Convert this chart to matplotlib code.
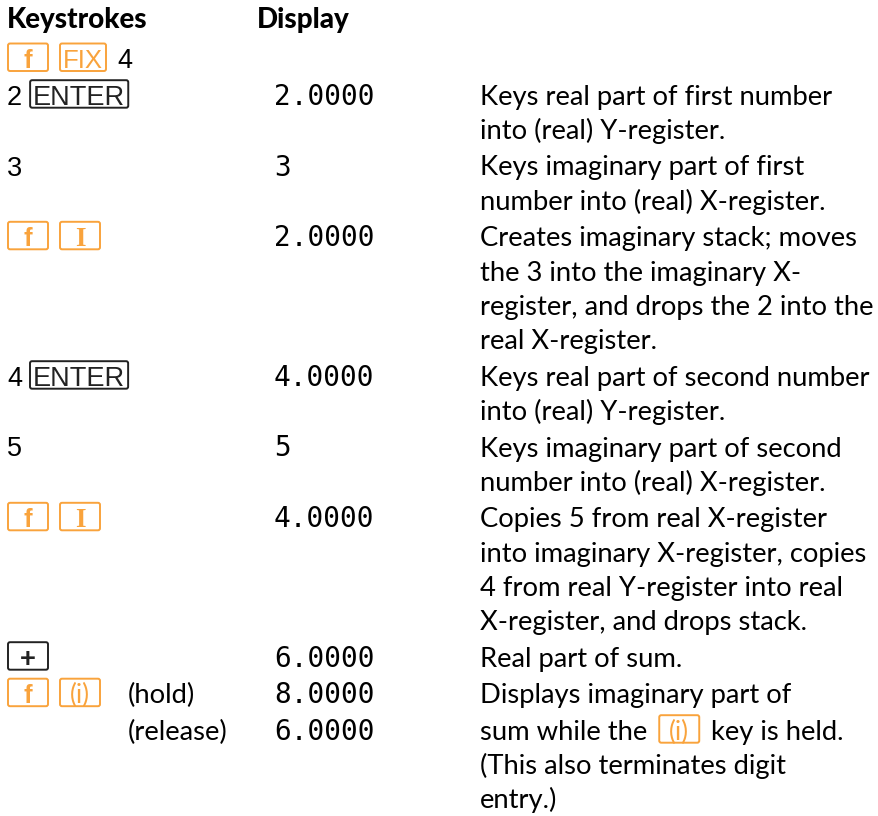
import matplotlib
matplotlib.use("Agg")
import matplotlib.pyplot as plt
from matplotlib.patches import FancyBboxPatch

# ---------------- data ----------------
headers = ["Keystrokes", "Display"]
keystrokes = [
    [("okey", "f"), ("okey", "FIX"), ("text", "4")],
    [("text", "2"), ("bkey", "ENTER")],
    [("text", "3")],
    [("okey", "f"), ("okey", "I")],
    [("text", "4"), ("bkey", "ENTER")],
    [("text", "5")],
    [("okey", "f"), ("okey", "I")],
    [("bkey", "+")],
    [("okey", "f"), ("okey", "(i)")],
    [],
]
key_notes = ["", "", "", "", "", "", "", "", "(hold)", "(release)"]
display = ["", "2.0000", "3", "2.0000", "4.0000", "5", "4.0000", "6.0000", "8.0000", "6.0000"]
descriptions = [
    [],
    ["Keys real part of first number", "into (real) Y-register."],
    ["Keys imaginary part of first", "number into (real) X-register."],
    ["Creates imaginary stack; moves", "the 3 into the imaginary X-",
     "register, and drops the 2 into the", "real X-register."],
    ["Keys real part of second number", "into (real) Y-register."],
    ["Keys imaginary part of second", "number into (real) X-register."],
    ["Copies 5 from real X-register", "into imaginary X-register, copies",
     "4 from real Y-register into real", "X-register, and drops stack."],
    ["Real part of sum."],
    ["Displays imaginary part of"],
    ["sum while the [(i)] key is held.", "(This also terminates digit", "entry.)"],
]

# ---------------- style / layout ----------------
W, H = 879, 816
ORANGE = "#F9A33C"
BODY = dict(family="Lato", size=19.7)
HEAD = dict(family="Lato", size=20, weight="black")
KEYTXT = dict(family="Liberation Sans", size=19.5)
MONO = dict(family="DejaVu Sans Mono", size=20)
KEY_FONTS = {
    "f": dict(family="Liberation Sans", size=18.5, weight="bold"),
    "FIX": dict(family="Liberation Sans", size=18.5),
    "I": dict(family="Liberation Serif", size=19.5, weight="bold"),
    "(i)": dict(family="Lato", size=18.5, weight="normal"),
    "ENTER": dict(family="Liberation Sans", size=19.5),
    "+": dict(family="Liberation Sans", size=19.5, weight="bold"),
}
X_KEYS, X_NOTES, X_DISP, X_DESC = 8, 128, 274, 480
X_HEAD = [7, 257]
Y_HEAD, Y_FIRST = 28, 68
LINE, ROWGAP = 34.3, 36.5
BOX_UP, BOX_H = 24.5, 27.5

fig = plt.figure(figsize=(W / 100, H / 100), dpi=100)
ax = fig.add_axes([0, 0, 1, 1])
ax.set_xlim(0, W)
ax.set_ylim(H, 0)
ax.axis("off")
renderer = fig.canvas.get_renderer()


def width_of(t):
    return t.get_window_extent(renderer=renderer).width


def draw_box_key(x, y, label, color):
    props = KEY_FONTS.get(label, KEYTXT)
    t = ax.text(x, y, label, color=color, va="baseline", ha="center", **props)
    w = max(40, width_of(t) + 6)
    t.set_x(x + w / 2)
    ax.add_patch(FancyBboxPatch((x, y - BOX_UP), w, BOX_H,
                                boxstyle="round,pad=0,rounding_size=2",
                                ec=color, fc="none", lw=1.4))
    return x + w


def draw_plain(x, y, s, props, color="black"):
    t = ax.text(x, y, s, color=color, va="baseline", ha="left", **props)
    return x + width_of(t)


# headers
for hx, h in zip(X_HEAD, headers):
    ax.text(hx, Y_HEAD, h, va="baseline", ha="left", color="black", **HEAD)

y = Y_FIRST
for i in range(len(keystrokes)):
    # keystrokes column
    x = X_KEYS
    for kind, lab in keystrokes[i]:
        if kind == "text":
            x = draw_plain(x - 1, y, lab, KEYTXT) + 8
        elif kind == "okey":
            x = draw_box_key(x, y, lab, ORANGE) + 12
        else:
            x = draw_box_key(x, y, lab, "#222222") + 12
    if key_notes[i]:
        draw_plain(X_NOTES, y, key_notes[i], BODY)
    if display[i]:
        draw_plain(X_DISP, y, display[i], MONO)
    lines = descriptions[i]
    for j, line in enumerate(lines):
        ly = y + j * LINE
        x = X_DESC
        parts = line.replace("]", "[").split("[")
        for k, part in enumerate(parts):
            if k % 2 == 1:
                x = draw_box_key(x + 5, ly, part, ORANGE) + 5
            elif part:
                x = draw_plain(x, ly, part, BODY)
    y += max(len(lines) - 1, 0) * LINE + (ROWGAP if i > 0 else 36.7)

fig.savefig("out.png", dpi=100, facecolor="white")
